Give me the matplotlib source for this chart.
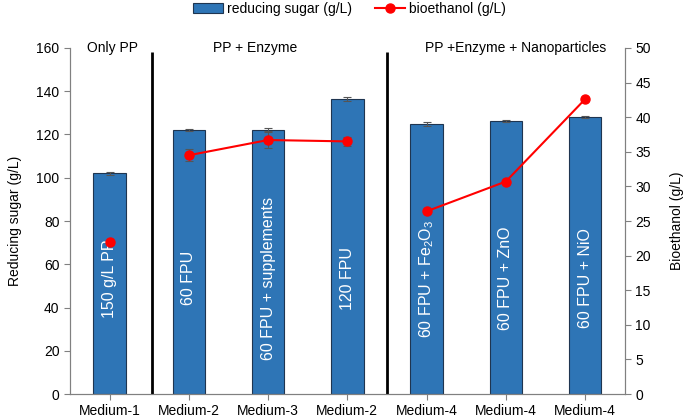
import numpy as np
import matplotlib
matplotlib.use("Agg")
import matplotlib.pyplot as plt

plt.rcParams["font.family"] = ["Liberation Sans", "DejaVu Sans"]
plt.rcParams["mathtext.default"] = "regular"

# Data
media = ["Medium-1", "Medium-2", "Medium-3", "Medium-2",
         "Medium-4", "Medium-4", "Medium-4"]
bar_labels = ["150 g/L PP", "60 FPU", "60 FPU + supplements", "120 FPU",
              "60 FPU + Fe$_2$O$_3$", "60 FPU + ZnO", "60 FPU + NiO"]
sugar = [102.0, 122.2, 122.3, 136.5, 125.0, 126.2, 128.0]
sugar_err = [0.6, 0.4, 0.6, 0.8, 1.0, 0.6, 0.6]
ethanol = [21.9, 34.5, 36.7, 36.5, 26.4, 30.7, 42.6]
ethanol_err = [0.0, 0.9, 1.2, 0.7, 0.0, 0.0, 0.0]
groups = ["Only PP", "PP + Enzyme", "PP +Enzyme + Nanoparticles"]

x = np.arange(len(media))

fig = plt.figure(figsize=(6.85, 4.17), dpi=100)
ax = fig.add_axes([0.102, 0.055, 0.81, 0.83])

bars = ax.bar(
    x, sugar, width=0.41,
    color="#2E75B6", edgecolor="#1F3550", linewidth=0.8,
    yerr=sugar_err, capsize=3,
    error_kw=dict(ecolor="#555555", elinewidth=0.8, capthick=0.8),
    label="reducing sugar (g/L)", zorder=2
)

for xi, txt in zip(x, bar_labels):
    ax.text(xi, 53.5, txt, rotation=90, ha="center", va="center",
            color="white", fontsize=11.5, zorder=3)

# group separators
ax.vlines([0.53, 3.5], 0, 158, color="black", linewidth=2, zorder=3)

ax.text(0.04, 160, groups[0], ha="center", va="center", fontsize=10)
ax.text(1.84, 160, groups[1], ha="center", va="center", fontsize=10)
ax.text(5.12, 160, groups[2], ha="center", va="center", fontsize=10)

ax.set_xlim(-0.5, 6.5)
ax.set_ylim(0, 160)
ax.set_yticks(np.arange(0, 161, 20))
ax.set_xticks(x)
ax.set_xticklabels(media, fontsize=10)
ax.set_ylabel("Reducing sugar (g/L)", fontsize=10, labelpad=10)
ax.tick_params(axis="y", labelsize=10, direction="out", length=4, color="#808080")
ax.tick_params(axis="x", direction="out", length=4, color="#808080")
ax.spines["top"].set_visible(False)
for s in ["left", "right", "bottom"]:
    ax.spines[s].set_color("#808080")

ax2 = ax.twinx()
ax2.plot(x[:1], ethanol[:1], "o", color="red", markersize=6.5, zorder=4)
ax2.errorbar(x[1:4], ethanol[1:4], yerr=ethanol_err[1:4], color="red",
             marker="o", markersize=6.5, linewidth=1.5,
             ecolor="#555555", elinewidth=0.8, capsize=3, capthick=0.8)
line, = ax2.plot(x[4:], ethanol[4:], color="red", marker="o",
                 markersize=6.5, linewidth=1.5, label="bioethanol (g/L)")
ax2.set_ylim(0, 50)
ax2.set_yticks(np.arange(0, 51, 5))
ax2.set_ylabel("Bioethanol (g/L)", fontsize=10, labelpad=14)
ax2.tick_params(axis="y", labelsize=10, direction="out", length=4, color="#808080")
ax2.spines["top"].set_visible(False)
for s in ["left", "right", "bottom"]:
    ax2.spines[s].set_color("#808080")

fig.legend(
    [bars, line], ["reducing sugar (g/L)", "bioethanol (g/L)"],
    loc="upper center", bbox_to_anchor=(0.51, 1.025), ncol=2,
    frameon=False, fontsize=10, handlelength=2.2, columnspacing=1.6,
    handletextpad=0.3
)

fig.savefig("out.png", dpi=100)
